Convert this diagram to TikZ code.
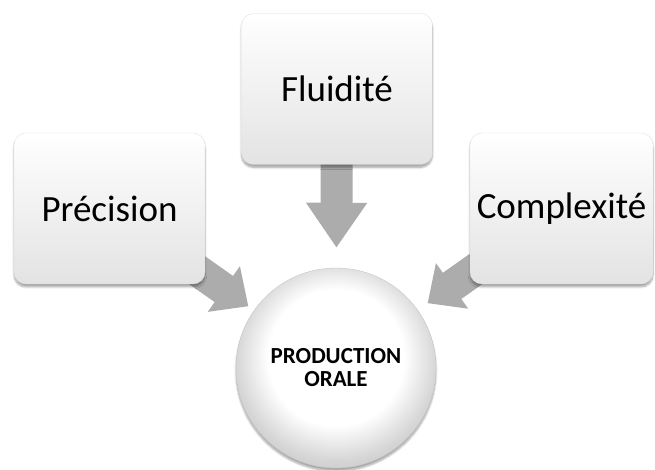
\documentclass[tikz,border=0pt]{standalone}
\usepackage{fontspec}
\setmainfont{Carlito}
\usetikzlibrary{arrows.meta,shadows.blur}

\pgfdeclarelayer{back}
\pgfsetlayers{back,main}

\pgfdeclareradialshading{rim}{\pgfpoint{0bp}{4bp}}{color(0bp)=(white); color(17bp)=(white); color(25bp)=(gray!32); color(30bp)=(gray!45); color(50bp)=(gray!45)}

\tikzset{
  box/.style={draw=gray!25, rounded corners=12pt, minimum width=191pt, minimum height=151pt,
    top color=white, bottom color=gray!22,
    blur shadow={shadow xshift=0pt, shadow yshift=-3pt, shadow blur steps=6, shadow opacity=35},
    font=\fontsize{37}{40}\selectfont},
  hub/.style={circle, draw=gray!45, minimum size=200pt, shade, shading=rim,
    blur shadow={shadow xshift=0pt, shadow yshift=-3pt, shadow blur steps=6, shadow opacity=35},
    align=center, font=\bfseries\fontsize{23}{23}\selectfont},
  flow/.style={draw=gray!65, line width=32pt, -{Triangle[length=30pt,width=54pt]}}
}

\begin{document}
\begin{tikzpicture}[x=1pt,y=1pt]
  \useasboundingbox (0,0) rectangle (655,470);

  \node[hub] (prod) at (336,102) {PRODUCTION\\ORALE};
  \node[box] (flu)  at (337,381) {Fluidité};
  \node[box] (prec) at (109.5,261.5) {Précision};
  \node[box, minimum width=183pt] (comp) at (561.5,261.5) {Complexité};

  % arrows sit behind the boxes
  \begin{pgfonlayer}{back}
    \draw[flow, -{Triangle[length=45pt,width=58pt]}, shorten >=20pt] (flu.center) -- (prod);
    \draw[flow, shorten >=7pt] (prec.center) -- (prod);
    \draw[flow, shorten >=12pt] (comp.center) -- (prod);
  \end{pgfonlayer}
\end{tikzpicture}
\end{document}
